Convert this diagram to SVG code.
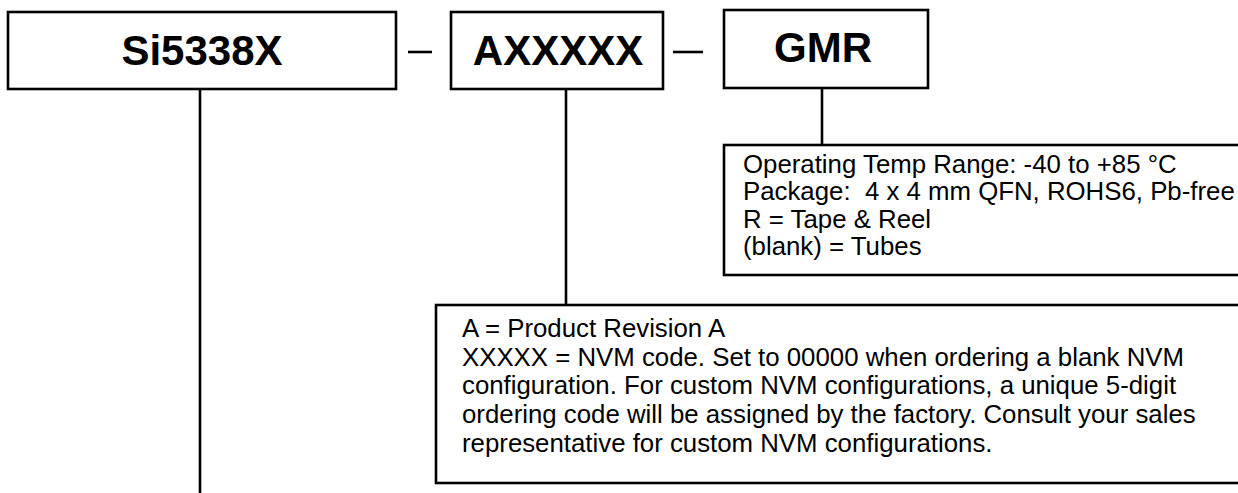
<svg xmlns="http://www.w3.org/2000/svg" width="1238" height="493" viewBox="0 0 1238 493">
<style>
.box{fill:#fff;stroke:#000;stroke-width:2.6}
.ln{stroke:#000;stroke-width:2.6;fill:none}
.h{font-family:"Liberation Sans",Arial,sans-serif;font-weight:bold;font-size:42px;text-anchor:middle;fill:#000}
.t{font-family:"Liberation Sans",Arial,sans-serif;font-size:25.8px;fill:#000}
</style>
<rect width="1238" height="493" fill="#fff"/>
<g id="connectors">
<line class="ln" x1="200" y1="89" x2="200" y2="493"/>
<line class="ln" x1="566" y1="89" x2="566" y2="305"/>
<line class="ln" x1="822" y1="88" x2="822" y2="145"/>
<line class="ln" x1="408" y1="52" x2="432" y2="52"/>
<line class="ln" x1="673" y1="52" x2="703" y2="52"/>
</g>
<g id="node-si5338x">
<rect class="box" x="8" y="12" width="388" height="77"/>
<text class="h" x="202" y="65">Si5338X</text>
</g>
<g id="node-axxxxx">
<rect class="box" x="451" y="12" width="212" height="77"/>
<text class="h" x="558" y="65">AXXXXX</text>
</g>
<g id="node-gmr">
<rect class="box" x="724" y="10" width="204" height="78"/>
<text class="h" x="823" y="62">GMR</text>
</g>
<g id="node-gmr-desc">
<rect class="box" x="724" y="145" width="540" height="130"/>
<text class="t" x="743" y="173">Operating Temp Range: -40 to +85 °C</text>
<text class="t" x="743" y="200" xml:space="preserve">Package:  4 x 4 mm QFN, ROHS6, Pb-free</text>
<text class="t" x="743" y="228">R = Tape &amp; Reel</text>
<text class="t" x="743" y="255">(blank) = Tubes</text>
</g>
<g id="node-axxxxx-desc">
<rect class="box" x="436" y="305" width="830" height="178"/>
<text class="t" x="462" y="337">A = Product Revision A</text>
<text class="t" x="462" y="366">XXXXX = NVM code. Set to 00000 when ordering a blank NVM</text>
<text class="t" x="462" y="394">configuration. For custom NVM configurations, a unique 5-digit</text>
<text class="t" x="462" y="423">ordering code will be assigned by the factory. Consult your sales</text>
<text class="t" x="462" y="452">representative for custom NVM configurations.</text>
</g>
</svg>
